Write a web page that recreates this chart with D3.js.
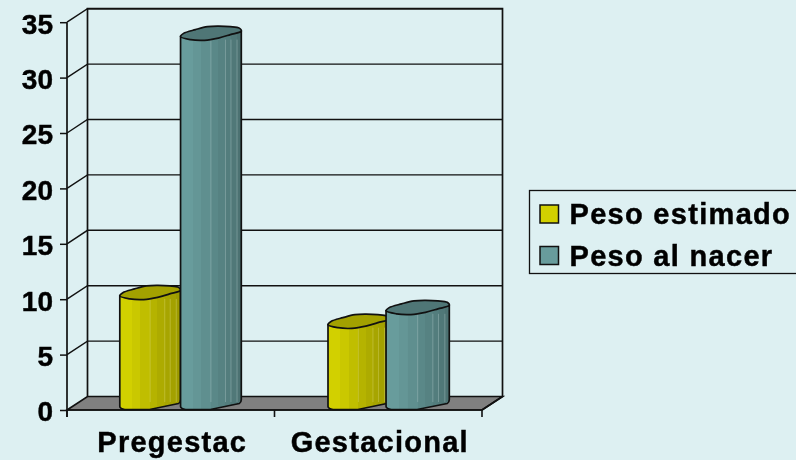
<!DOCTYPE html>
<html><head><meta charset="utf-8">
<script src="https://cdn.jsdelivr.net/npm/d3@7"></script>
<style>html,body{margin:0;padding:0;background:#ddf0f2}svg{display:block}text{font-family:"Liberation Sans",Arial,sans-serif;font-weight:bold;fill:#000;stroke:#000;stroke-width:.45px;filter:url(#soft)}</style>
</head><body><svg id="c" width="796" height="460"></svg>
<script>
const categories = ["Pregestac", "Gestacional"];
const seriesNames = ["Peso estimado", "Peso al nacer"];
const pesoEstimado = [10.3, 7.7];
const pesoAlNacer = [33.7, 8.95];
const yTicks = [0, 5, 10, 15, 20, 25, 30, 35];
const seriesValues = [pesoEstimado, pesoAlNacer];

const svg = d3.select("#c");
const dx = 20.5, dy = -13.5;
const x = d3.scaleBand().domain(categories).range([67, 482]);
const y = d3.scaleLinear().domain([0, 35]).range([410, 22.2]);
const xInner = d3.scaleBand().domain(seriesNames).range([0, 121.5]);
const ink = "#111";

const x0 = x.range()[0], x1 = x.range()[1];
svg.append("path").attr("fill", "#808080").attr("stroke", ink).attr("stroke-width", 1.7)
  .attr("d", `M${x0},${y(0)}L${x0+dx},${y(0)+dy}L${x1+dx},${y(0)+dy}L${x1},${y(0)}Z`);
const grid = svg.append("g").attr("fill", "none").attr("stroke", ink).attr("stroke-width", 1.4);
grid.selectAll("path").data(yTicks.slice(1)).join("path")
  .attr("d", t => `M${x0},${y(t)}L${x0+dx},${y(t)+dy}L${x1+dx},${y(t)+dy}`);
svg.append("path").attr("fill", "none").attr("stroke", ink).attr("stroke-width", 1.7)
  .attr("d", `M${x0+dx},${y(0)+dy}L${x0+dx},${y(35)+dy}L${x1+dx},${y(35)+dy}L${x1+dx},${y(0)+dy}L${x1},${y(0)}`);

const fracs = [0, .2, .34, .5, .62, .74, .83, .93, 1];
const ramps = [
  ["#d2d000", "#cac800", "#c0be00", "#b5b300", "#adab00", "#a7a500", "#a3a100", "#9c9a00"],
  ["#689c9c", "#649696", "#5f8f8f", "#5a8888", "#568282", "#537d7d", "#507878", "#4c7272"]
];
const lights = ["#d2d060", "#9dbaba"];
const defs = svg.append("defs");
defs.append("filter").attr("id", "soft").attr("x", "-5%").attr("y", "-5%").attr("width", "110%").attr("height", "110%")
  .append("feGaussianBlur").attr("stdDeviation", .35);
ramps.forEach((r, i) => {
  const g = defs.append("linearGradient").attr("id", "g" + i);
  r.forEach((c, k) => {
    g.append("stop").attr("offset", fracs[k]).attr("stop-color", c);
    g.append("stop").attr("offset", fracs[k + 1] - .001).attr("stop-color", c);
  });
});
const topColors = ["#a3a100", "#4f7676"];
const capShape = [[0,0],[3,-3.2],[15,-7],[27,-10],[38,-10.5],[50,-10],[59,-8.5],[61,-5.5],[50,-2],[38,1.5],[24,3.7],[10,3]];
const capLine = d3.line().curve(d3.curveCatmullRomClosed.alpha(.5));

function cylinder(px, top, bot, w) {
  const k = w / 61;
  const X = f => px + f * k;
  const body = `M${X(0)},${top}L${X(0)},${bot-3}Q${X(0)},${bot-1} ${X(5)},${bot}L${X(30)},${bot}L${X(59)},${bot-6}Q${X(61)},${bot-7} ${X(61)},${bot-10}L${X(61)},${top-5}Z`;
  const cap = capLine(capShape.map(p => [X(p[0]), top + p[1]]));
  return { body, cap };
}

categories.forEach((cat, ci) => {
  const cx = x(cat) + x.bandwidth() / 2 + dx / 2;
  seriesNames.forEach((s, si) => {
    const v = seriesValues[si][ci];
    const shift = ci === 1 && si === 1 ? -2.7 : (ci === 0 ? -.7 : 0);
    const px = cx - 60.5 + xInner(s) + shift;
    const w = xInner.bandwidth() + (ci === 1 && si === 1 ? 2.5 : 0);
    const c = cylinder(px, y(v), y(0) - .5, w);
    const g = svg.append("g").attr("class", "cyl");
    g.append("path").attr("d", c.body).attr("fill", `url(#g${si})`);
    [.5, .74, .83, .93].forEach(f => {
      g.append("line").attr("x1", px + f * w).attr("x2", px + f * w)
        .attr("y1", y(v) + 3).attr("y2", y(0) - 8)
        .attr("stroke", lights[si]).attr("stroke-width", .8).attr("opacity", .6);
    });
    g.append("path").attr("d", c.body).attr("fill", "none").attr("stroke", ink).attr("stroke-width", 1.7);
    g.append("path").attr("d", c.cap).attr("fill", topColors[si]).attr("stroke", ink).attr("stroke-width", 1.7);
  });
});

const axL = svg.append("g").attr("transform", `translate(${x0},0)`)
  .call(d3.axisLeft(y).tickValues(yTicks).tickSize(7).tickPadding(7).tickSizeOuter(0));
axL.selectAll("path").remove();
axL.selectAll("line").attr("stroke", ink).attr("stroke-width", 1.5);
axL.selectAll("text").style("font-size", "28px").attr("dy", "0.39em").attr("fill", "#000");
svg.append("line").attr("x1", x0).attr("x2", x0).attr("y1", y(35)).attr("y2", 417)
  .attr("stroke", ink).attr("stroke-width", 1.7);

const axB = svg.append("g").attr("transform", `translate(1.5,${y(0)})`)
  .call(d3.axisBottom(x).tickSize(0).tickPadding(21));
axB.selectAll("path").remove();
axB.selectAll("line").remove();
axB.selectAll("text").style("font-size", "29px").style("letter-spacing", "1.25px").attr("fill", "#000").attr("dy", "0.71em");
svg.append("path").attr("fill", "none").attr("stroke", ink).attr("stroke-width", 1.6)
  .attr("d", [x0, x0 + x.step(), x1].map(t => `M${t},${y(0)}L${t},${y(0)+7}`).join("") + `M${x0},${y(0)}L${x1},${y(0)}`);

svg.append("rect").attr("x", 529.5).attr("y", 190.5).attr("width", 290).attr("height", 83)
  .attr("fill", "none").attr("stroke", ink).attr("stroke-width", 1.3);
seriesNames.forEach((s, i) => {
  const yy = 205 + i * 41.5;
  svg.append("rect").attr("x", 540).attr("y", yy).attr("width", 18.5).attr("height", 18)
    .attr("fill", ramps[i][0]).attr("stroke", ink).attr("stroke-width", 1.5);
  svg.append("text").attr("x", 569.5).attr("y", yy + 19).style("font-size", "29px").style("letter-spacing", "1.3px").text(s);
});
</script></body></html>
